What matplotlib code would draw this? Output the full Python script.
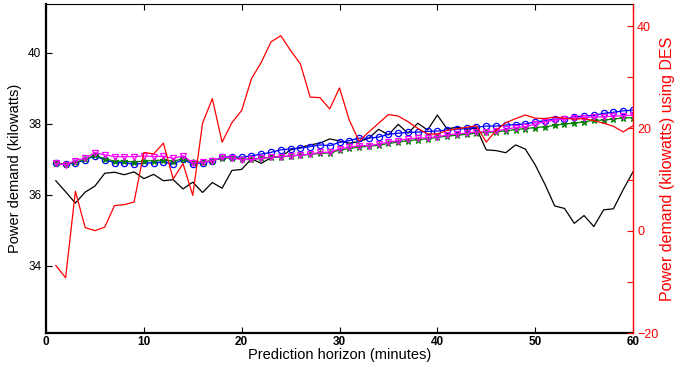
import numpy as np
import matplotlib
matplotlib.use("Agg")
import matplotlib.pyplot as plt

plt.rcParams["font.family"] = ["Liberation Sans", "DejaVu Sans"]

# prediction horizon (minutes)
minutes = np.arange(1, 61)

# measured demand (kW), left axis
actual = [36.40, 36.09, 35.77, 36.08, 36.25, 36.61, 36.64, 36.57, 36.65, 36.46,
          36.58, 36.40, 36.43, 36.17, 36.36, 36.07, 36.35, 36.19, 36.69, 36.72,
          37.02, 36.89, 37.05, 37.08, 37.27, 37.34, 37.41, 37.46, 37.58, 37.52,
          37.46, 37.50, 37.60, 37.85, 37.69, 37.99, 37.74, 38.02, 37.83, 38.25,
          37.86, 37.91, 37.85, 37.88, 37.27, 37.25, 37.19, 37.41, 37.29, 36.85,
          36.30, 35.69, 35.62, 35.20, 35.42, 35.11, 35.58, 35.61, 36.15, 36.65]

# DES forecast, right axis
des = [-6.8, -9.2, 7.7, 0.6, 0.0, 0.7, 4.9, 5.1, 5.6, 15.3,
       15.0, 17.1, 10.1, 13.1, 6.9, 21.0, 25.8, 17.3, 21.1, 23.5,
       29.7, 32.9, 36.9, 38.1, 35.2, 32.6, 26.1, 26.0, 23.8, 27.9,
       21.6, 17.5, 19.3, 21.0, 22.7, 22.4, 21.3, 20.0, 18.9, 18.9,
       19.6, 19.9, 20.2, 20.5, 17.3, 19.6, 21.1, 21.9, 22.6, 22.0,
       21.9, 22.2, 22.0, 21.8, 21.9, 21.5, 21.0, 20.4, 19.3, 20.5]

blue = [36.89, 36.87, 36.89, 36.99, 37.10, 36.99, 36.91, 36.91, 36.87, 36.89,
        36.91, 36.93, 36.87, 37.00, 36.87, 36.91, 36.96, 37.06, 37.08, 37.06,
        37.10, 37.15, 37.20, 37.27, 37.30, 37.32, 37.36, 37.41, 37.39, 37.48,
        37.53, 37.60, 37.60, 37.63, 37.71, 37.74, 37.76, 37.77, 37.79, 37.80,
        37.83, 37.85, 37.88, 37.91, 37.94, 37.94, 37.97, 37.98, 38.00, 38.06,
        38.09, 38.14, 38.14, 38.20, 38.23, 38.24, 38.30, 38.33, 38.37, 38.39]

green = [36.89, 36.87, 36.92, 37.00, 37.12, 37.02, 36.95, 36.95, 36.93, 36.95,
         36.97, 36.98, 36.95, 37.02, 36.92, 36.93, 36.97, 37.03, 37.05, 37.02,
         37.00, 37.03, 37.06, 37.08, 37.10, 37.12, 37.14, 37.17, 37.19, 37.26,
         37.31, 37.35, 37.37, 37.40, 37.45, 37.49, 37.53, 37.56, 37.58, 37.62,
         37.66, 37.68, 37.71, 37.74, 37.76, 37.78, 37.81, 37.84, 37.87, 37.90,
         37.92, 37.96, 38.00, 38.02, 38.06, 38.10, 38.11, 38.14, 38.17, 38.18]

magenta = [36.89, 36.85, 36.97, 37.03, 37.19, 37.13, 37.08, 37.08, 37.08, 37.10,
           37.08, 37.09, 37.03, 37.10, 36.91, 36.92, 36.96, 37.06, 37.05, 36.99,
           37.00, 37.03, 37.06, 37.08, 37.10, 37.12, 37.15, 37.20, 37.20, 37.30,
           37.34, 37.39, 37.39, 37.43, 37.49, 37.53, 37.58, 37.60, 37.61, 37.64,
           37.69, 37.72, 37.74, 37.78, 37.78, 37.80, 37.85, 37.90, 37.92, 38.00,
           38.06, 38.11, 38.14, 38.17, 38.18, 38.20, 38.20, 38.22, 38.23, 38.25]

fig = plt.figure(figsize=(6.84, 3.68), dpi=100)
ax = fig.add_axes([0.0673, 0.0951, 0.8581, 0.894])
ax2 = ax.twinx()

ax.plot(minutes, actual, color="black", lw=0.9)
ax.plot(minutes, blue, color="blue", lw=0.9, marker="o", ms=4.5, mfc="none", mew=0.9)
ax.plot(minutes, green, color="green", lw=0.9, marker="*", ms=5, mew=0.9)
ax.plot(minutes, magenta, color="magenta", lw=0.9, marker="v", ms=5, mfc="none", mew=0.9)
ax2.plot(minutes, des, color="red", lw=0.9)

ax.set_xlim(0, 60)
ax.set_ylim(32.11, 41.38)
ax2.set_ylim(-20, 44.3)

ax.set_xticks(np.arange(0, 61, 10))
ax.set_yticks([34, 36, 38, 40])
ax2.set_yticks(np.arange(-20, 41, 10))
ax2.set_yticklabels(["\u221220", "", "0", "", "20", "", "40"])

ax.tick_params(axis="x", direction="in", top=True, length=4, labelsize=8.5, pad=2)
ax.tick_params(axis="y", direction="in", length=4, labelsize=8.5)
ax2.tick_params(axis="y", direction="in", length=4, colors="red", labelsize=9, pad=3)
for lab in ax.get_xticklabels():
    lab.set_fontweight("bold")

ax.spines["left"].set_linewidth(1.6)
ax.spines["bottom"].set_linewidth(1.6)
ax.spines["top"].set_linewidth(0.8)
ax.spines["right"].set_visible(False)
for s in ["left", "top", "bottom"]:
    ax2.spines[s].set_visible(False)
ax2.spines["right"].set_color("red")
ax2.spines["right"].set_linewidth(1.0)

ax.set_xlabel("Prediction horizon (minutes)", fontsize=10.5, labelpad=0)
ax.set_ylabel("Power demand (kilowatts)", fontsize=10.5, labelpad=4)
ax2.set_ylabel("Power demand (kilowatts) using DES", fontsize=11.5, color="red", labelpad=1)

fig.savefig("out.png", dpi=100)
